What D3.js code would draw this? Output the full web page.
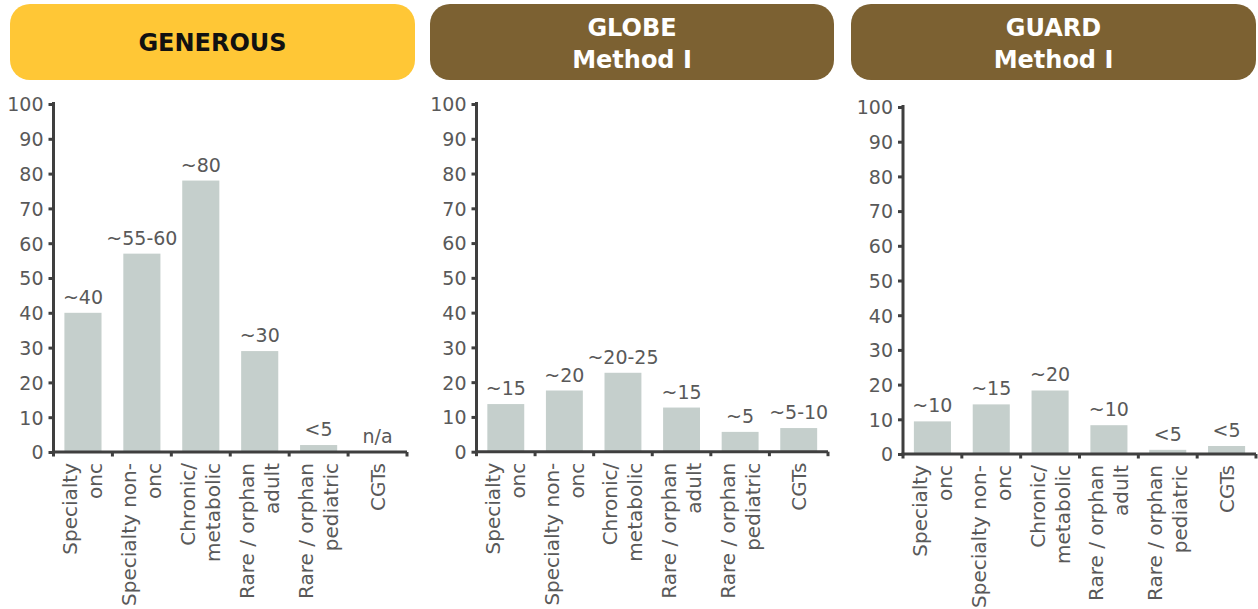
<!DOCTYPE html>
<html>
<head>
<meta charset="utf-8">
<script src="https://cdn.jsdelivr.net/npm/d3@7"></script>
<style>
  html, body { margin: 0; padding: 0; background: #ffffff; }
  svg { display: block; }
</style>
</head>
<body>
<svg id="chart" width="1258" height="609"></svg>
<script>
// ---------- data ----------
const categories = [
  ["Specialty", "onc"],
  ["Specialty non-", "onc"],
  ["Chronic/", "metabolic"],
  ["Rare / orphan", "adult"],
  ["Rare / orphan", "pediatric"],
  ["CGTs"]
];
const panelTitles = [["GENEROUS"], ["GLOBE", "Method I"], ["GUARD", "Method I"]];

const generousValues = [40, 57, 78, 29, 2, 0];
const generousLabels = ["~40", "~55-60", "~80", "~30", "<5", "n/a"];

const globeValues = [13.7, 17.6, 22.7, 12.7, 5.7, 6.8];
const globeLabels = ["~15", "~20", "~20-25", "~15", "~5", "~5-10"];

const guardValues = [9.4, 14.3, 18.3, 8.3, 1.2, 2.3];
const guardLabels = ["~10", "~15", "~20", "~10", "<5", "<5"];

const yTicks = [0, 10, 20, 30, 40, 50, 60, 70, 80, 90, 100];

// ---------- layout ----------
const panels = [
  { title: panelTitles[0], values: generousValues, labels: generousLabels,
    head: [10, 415], headFill: "#FFC736", headText: "#111111",
    x0: 53.5, x1: 407, yTop: 104, yBase: 452 },
  { title: panelTitles[1], values: globeValues, labels: globeLabels,
    head: [430, 834], headFill: "#7C6132", headText: "#ffffff",
    x0: 476.5, x1: 828, yTop: 104, yBase: 451.7 },
  { title: panelTitles[2], values: guardValues, labels: guardLabels,
    head: [851, 1256], headFill: "#7C6132", headText: "#ffffff",
    x0: 903, x1: 1256, yTop: 107, yBase: 454 }
];

const FONT = "'DejaVu Sans', sans-serif";
const TEXT = "#595959";
const AXIS = "#3f3f3f";
const BAR = "#C5CFCC";

const svg = d3.select("#chart");

panels.forEach(p => {
  const g = svg.append("g");

  // header pill
  g.append("rect")
    .attr("x", p.head[0]).attr("y", 4)
    .attr("width", p.head[1] - p.head[0]).attr("height", 76)
    .attr("rx", 20).attr("ry", 20)
    .attr("fill", p.headFill);

  const lines = p.title;
  const baselines = lines.length === 1 ? [50.5] : [36, 68];
  g.selectAll("text.head").data(lines).join("text")
    .attr("class", "head")
    .attr("x", (p.head[0] + p.head[1]) / 2)
    .attr("y", (d, i) => baselines[i])
    .attr("text-anchor", "middle")
    .attr("font-family", FONT)
    .attr("font-weight", "bold")
    .attr("font-size", 24)
    .attr("fill", p.headText)
    .text(d => d);

  // scales
  const x = d3.scaleBand()
    .domain(d3.range(categories.length))
    .range([p.x0, p.x1])
    .paddingInner(0.37)
    .paddingOuter(0.185);
  const y = d3.scaleLinear().domain([0, 100]).range([p.yBase, p.yTop]);

  // bars
  g.selectAll("rect.bar").data(p.values).join("rect")
    .attr("class", "bar")
    .attr("x", (d, i) => x(i))
    .attr("width", x.bandwidth())
    .attr("y", d => y(d))
    .attr("height", d => y(0) - y(d))
    .attr("fill", BAR);

  // value labels
  g.selectAll("text.val").data(p.values).join("text")
    .attr("class", "val")
    .attr("x", (d, i) => x(i) + x.bandwidth() / 2)
    .attr("y", d => y(d) - 9)
    .attr("text-anchor", "middle")
    .attr("font-family", FONT)
    .attr("font-size", 19)
    .attr("fill", TEXT)
    .text((d, i) => p.labels[i]);

  // y axis
  const yAxis = d3.axisLeft(y).tickValues(yTicks).tickSize(5).tickSizeOuter(0).tickPadding(5);
  const ya = g.append("g").attr("transform", `translate(${p.x0},0)`).call(yAxis);
  ya.select(".domain").attr("stroke", AXIS).attr("stroke-width", 3)
    .attr("d", `M0,${y(100) - 2}V${y(0) + 1.5}`);
  ya.selectAll(".tick line").attr("stroke", AXIS).attr("stroke-width", 3);
  ya.selectAll(".tick text")
    .attr("font-family", FONT).attr("font-size", 19).attr("fill", TEXT)
    .attr("dy", "0.36em");

  // x axis line + ticks at band boundaries
  const step = x.step();
  const bounds = d3.range(categories.length + 1).map(i => p.x0 + i * step);
  g.append("line")
    .attr("x1", p.x0 - 1.5).attr("x2", p.x1)
    .attr("y1", y(0)).attr("y2", y(0))
    .attr("stroke", AXIS).attr("stroke-width", 3);
  g.selectAll("line.xt").data(bounds).join("line")
    .attr("class", "xt")
    .attr("x1", d => d).attr("x2", d => d)
    .attr("y1", y(0)).attr("y2", y(0) + 4.5)
    .attr("stroke", AXIS).attr("stroke-width", 3);

  // category labels (rotated)
  categories.forEach((cat, i) => {
    const cx = x(i) + x.bandwidth() / 2;
    const offs = cat.length === 1 ? [7] : [-5.5, 19.5];
    cat.forEach((line, j) => {
      g.append("text")
        .attr("transform", `translate(${cx + offs[j]},${y(0) + 11}) rotate(-90)`)
        .attr("text-anchor", "end")
        .attr("font-family", FONT)
        .attr("font-size", 20)
        .attr("fill", TEXT)
        .text(line);
    });
  });
});
</script>
</body>
</html>
